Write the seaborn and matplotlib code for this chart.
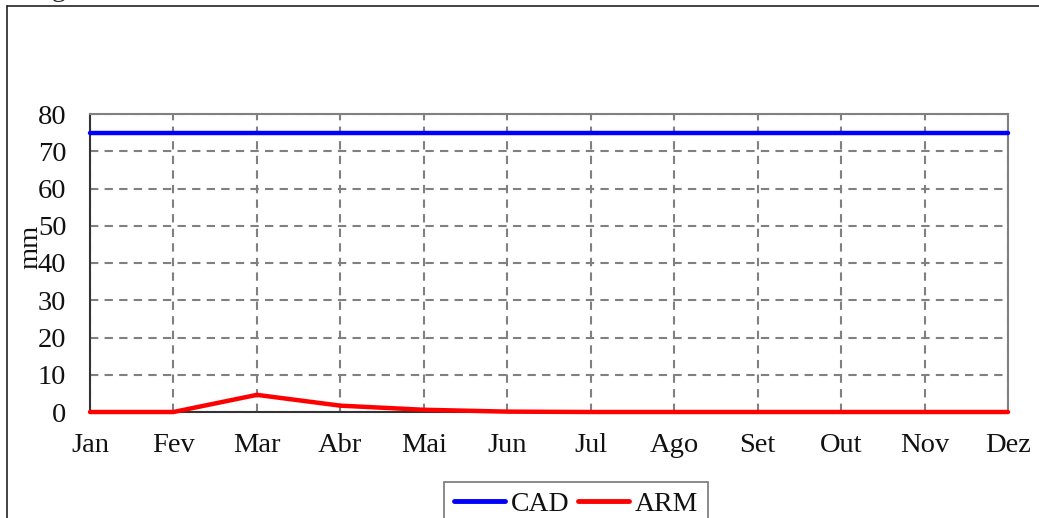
import matplotlib
matplotlib.use("Agg")
import matplotlib.pyplot as plt
import seaborn as sns
import pandas as pd
from matplotlib.lines import Line2D

months = ["Jan", "Fev", "Mar", "Abr", "Mai", "Jun", "Jul", "Ago", "Set", "Out", "Nov", "Dez"]
cad = [75, 75, 75, 75, 75, 75, 75, 75, 75, 75, 75, 75]
arm = [0, 0, 4.6, 1.7, 0.6, 0.1, 0, 0, 0, 0, 0, 0]
yticks = [0, 10, 20, 30, 40, 50, 60, 70, 80]

sns.set_style("white")
plt.rcParams['font.family'] = ['Liberation Serif', 'DejaVu Serif']

FS = 20.5

df = pd.DataFrame({
    "x": list(range(12)) * 2,
    "mm": cad + arm,
    "serie": ["CAD"] * 12 + ["ARM"] * 12,
})

fig = plt.figure(figsize=(10.39, 5.18), dpi=100)
ax = fig.add_axes([90 / 1039, 1 - 412 / 518, (1008 - 90) / 1039, (412 - 114) / 518])

sns.lineplot(data=df, x="x", y="mm", hue="serie", palette={"CAD": "#0000ff", "ARM": "#ff0000"},
             linewidth=3.2, ax=ax, legend=False, clip_on=False, zorder=5)

ax.set_xlim(0, 11)
ax.set_ylim(0, 80)
ax.set_xticks(range(12))
ax.set_xticklabels(months)
ax.set_yticks(yticks)
ax.set_yticklabels([str(v) for v in yticks])
ax.tick_params(axis='both', labelsize=FS, labelcolor='#111111', direction='out', length=6, width=1.2, color='#333333')
ax.tick_params(axis='x', pad=9)
ax.tick_params(axis='y', pad=11)
ax.set_xlabel("")
ax.set_ylabel("mm", fontsize=FS, color='#111111')
ax.yaxis.set_label_coords(-0.051, 0.554)

ax.grid(True, color='#808080', linestyle=(0, (4, 3)), linewidth=1.5)
for s in ["top", "right"]:
    ax.spines[s].set_color('#808080')
    ax.spines[s].set_linewidth(1.5)
for s in ["left", "bottom"]:
    ax.spines[s].set_color('#333333')
    ax.spines[s].set_linewidth(1.5)

handles = [Line2D([], [], color="#0000ff", linewidth=3.5, solid_capstyle='round'),
           Line2D([], [], color="#ff0000", linewidth=3.5, solid_capstyle='round')]
leg = fig.legend(handles, ["CAD", "ARM"], loc='upper left', bbox_to_anchor=(444 / 1039, 1 - 482 / 518),
                 ncol=2, frameon=True, fancybox=False, fontsize=20, handlelength=1.85,
                 handletextpad=0.2, columnspacing=0.3, borderpad=0.35, borderaxespad=0)
for t in leg.get_texts():
    t.set_color('#111111')
leg.get_frame().set_edgecolor('#555555')
leg.get_frame().set_linewidth(1.2)

# outer frame
fig.add_artist(Line2D([7 / 1039, 7 / 1039], [0, 1 - 6 / 518], transform=fig.transFigure, color='#222222', linewidth=1.2))
fig.add_artist(Line2D([7 / 1039, 1], [1 - 6 / 518, 1 - 6 / 518], transform=fig.transFigure, color='#222222', linewidth=1.2))
fig.text(28 / 1039, 1 + 10 / 518, "Figura", fontsize=FS, va='center', ha='left')

fig.savefig("out.png", dpi=100)
